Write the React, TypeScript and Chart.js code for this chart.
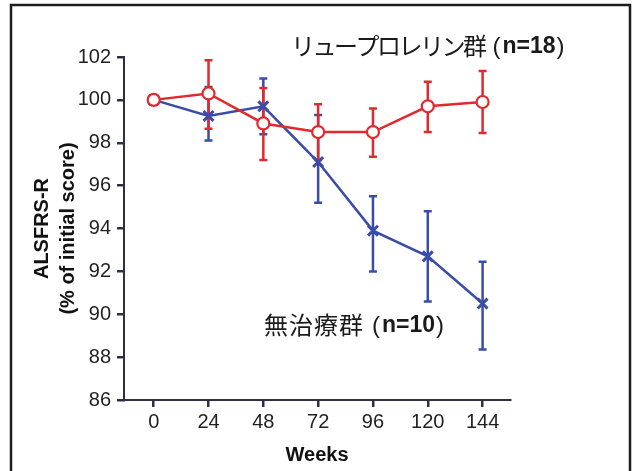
import React, { useEffect, useRef } from 'react';
import { Chart, registerables } from 'chart.js';

Chart.register(...registerables);

// ---- data ----
const weeks = [0, 24, 48, 72, 96, 120, 144];
const leuMean = [100, 100.3, 98.9, 98.5, 98.5, 99.7, 99.9];
const leuUpper = [100, 101.85, 100.55, 99.8, 99.6, 100.85, 101.35];
const leuLower = [100, 98.65, 97.2, 97.2, 97.35, 98.5, 98.45];
const untMean = [100, 99.25, 99.7, 97.1, 93.9, 92.7, 90.5];
const untUpper = [100, 100.6, 101.0, 99.3, 95.5, 94.8, 92.45];
const untLower = [100, 98.1, 98.4, 95.2, 92.0, 90.6, 88.35];
const yMin = 86;
const yMax = 102;
const yStep = 2;
const leuLabel = 'リュープロレリン群';
const leuN = 'n=18';
const untLabel = '無治療群';
const untN = 'n=10';
const xTitle = 'Weeks';
const yTitle = ['ALSFRS-R', '(% of initial score)'];

const RED = '#e2292d';
const BLUE = '#3a4ca8';
const AXIS = '#2e2e44';
const LATIN = '"Liberation Sans", Arial, sans-serif';
const CJK = '"Noto Sans CJK JP", sans-serif';

export default function App() {
  const ref = useRef<HTMLCanvasElement>(null);

  useEffect(() => {
    const canvas = ref.current;
    if (!canvas) return;

    const errorBars = {
      id: 'errorBars',
      beforeDatasetsDraw(chart: any) {
        const { ctx, scales } = chart;
        const x = scales.x;
        const y = scales.y;
        const series = [
          { upper: untUpper, lower: untLower, color: BLUE },
          { upper: leuUpper, lower: leuLower, color: RED },
        ];
        ctx.save();
        series.forEach((s) => {
          ctx.strokeStyle = s.color;
          ctx.lineWidth = 2.5;
          weeks.forEach((w, i) => {
            if (s.upper[i] === s.lower[i]) return;
            const px = x.getPixelForValue(w);
            const yt = y.getPixelForValue(s.upper[i]);
            const yb = y.getPixelForValue(s.lower[i]);
            ctx.beginPath();
            ctx.moveTo(px, yt);
            ctx.lineTo(px, yb);
            ctx.moveTo(px - 4, yt);
            ctx.lineTo(px + 4, yt);
            ctx.moveTo(px - 4, yb);
            ctx.lineTo(px + 4, yb);
            ctx.stroke();
          });
        });
        ctx.restore();
      },
    };

    const drawLabel = (
      ctx: CanvasRenderingContext2D,
      x: number,
      y: number,
      jp: string,
      n: string,
      spacing: number
    ) => {
      ctx.textBaseline = 'middle';
      ctx.textAlign = 'left';
      ctx.fillStyle = '#1a1a1a';
      ctx.font = `24px ${CJK}`;
      (ctx as any).letterSpacing = `${spacing}px`;
      ctx.fillText(jp, x, y);
      let cx = x + ctx.measureText(jp).width;
      (ctx as any).letterSpacing = '0px';
      cx += 8;
      ctx.font = `24px ${LATIN}`;
      ctx.fillText('(', cx, y + 1);
      cx += 10;
      ctx.font = `bold 23px ${LATIN}`;
      ctx.fillText(n, cx, y + 1);
      cx += ctx.measureText(n).width + 1;
      ctx.font = `24px ${LATIN}`;
      ctx.fillText(')', cx, y + 1);
    };

    const decorations = {
      id: 'decorations',
      afterDraw(chart: any) {
        const { ctx } = chart;
        ctx.save();
        // frame
        ctx.strokeStyle = '#1c1c1c';
        ctx.lineWidth = 2.5;
        ctx.beginPath();
        ctx.moveTo(11, 471);
        ctx.lineTo(11, 5);
        ctx.lineTo(630, 5);
        ctx.lineTo(630, 471);
        ctx.stroke();
        drawLabel(ctx, 291, 46, leuLabel, leuN, -2.5);
        drawLabel(ctx, 264, 325, untLabel, untN, 1);
        ctx.restore();
      },
    };

    const chart = new Chart(canvas, {
      type: 'line',
      data: {
        datasets: [
          {
            label: leuLabel,
            data: weeks.map((w, i) => ({ x: w, y: leuMean[i] })),
            borderColor: RED,
            borderWidth: 2.5,
            pointStyle: 'circle',
            pointRadius: 6,
            pointBorderWidth: 2.2,
            pointBackgroundColor: '#ffffff',
            pointBorderColor: RED,
            tension: 0,
          },
          {
            label: untLabel,
            data: weeks.map((w, i) => ({ x: w, y: untMean[i] })),
            borderColor: BLUE,
            borderWidth: 2.5,
            pointStyle: 'crossRot',
            pointRadius: 7,
            pointBorderWidth: 3,
            pointBackgroundColor: BLUE,
            pointBorderColor: BLUE,
            tension: 0,
          },
        ],
      },
      options: {
        animation: false,
        responsive: false,
        layout: { padding: { left: 0, top: 57, right: 126, bottom: 0 } },
        plugins: { legend: { display: false }, tooltip: { enabled: false } },
        scales: {
          x: {
            type: 'linear',
            min: -13,
            max: 156,
            afterBuildTicks: (s: any) => {
              s.ticks = weeks.map((v) => ({ value: v }));
            },
            afterFit: (s: any) => {
              s.height = 71;
            },
            border: { display: true, color: AXIS, width: 2 },
            grid: { drawOnChartArea: false, drawTicks: true, tickLength: 7, color: AXIS, lineWidth: 2.5 },
            ticks: {
              color: '#1f1f1f',
              font: { family: LATIN, size: 20 },
              padding: 3,
              maxRotation: 0,
              callback: (v: any) => String(v),
            },
            title: {
              display: true,
              text: xTitle,
              color: '#111',
              font: { family: LATIN, size: 20, weight: 'bold', lineHeight: 1.2 },
              padding: { top: 0, bottom: 4 },
            },
          },
          y: {
            min: yMin,
            max: yMax,
            afterFit: (s: any) => {
              s.width = 124;
            },
            border: { display: true, color: AXIS, width: 2 },
            grid: { drawOnChartArea: false, drawTicks: true, tickLength: 7, color: AXIS, lineWidth: 2.5 },
            ticks: {
              stepSize: yStep,
              color: '#1f1f1f',
              font: { family: LATIN, size: 20 },
              padding: 6,
            },
            title: {
              display: true,
              text: yTitle,
              color: '#111',
              font: { family: LATIN, size: 20, weight: 'bold', lineHeight: '26px' as any },
              padding: { top: 29, bottom: 0 },
            },
          },
        },
      },
      plugins: [errorBars, decorations],
    });

    return () => chart.destroy();
  }, []);

  return (
    <div style={{ position: 'fixed', left: 0, top: 0, width: 636, height: 471, background: '#ffffff' }}>
      <canvas ref={ref} width={636} height={471} style={{ display: 'block' }} />
    </div>
  );
}
